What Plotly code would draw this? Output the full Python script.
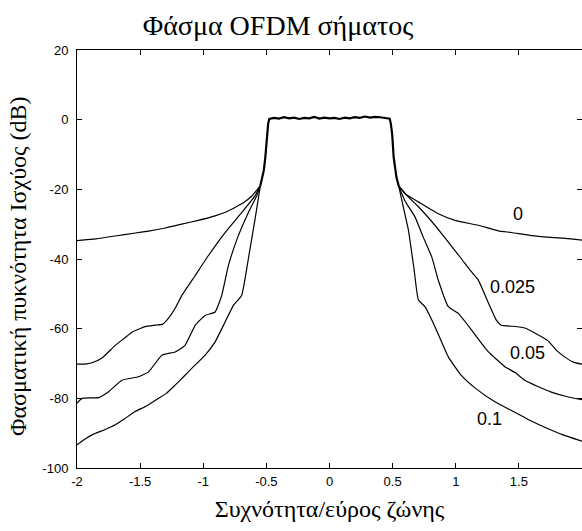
import plotly.graph_objects as go

# ---- data ----
lobe_x = [-0.548, -0.53, -0.52, -0.508, -0.496, -0.486, -0.477, -0.44, -0.40, -0.36, -0.32, -0.28,
          -0.24, -0.20, -0.16, -0.12, -0.08, -0.04, 0.0, 0.04, 0.08, 0.12, 0.16, 0.20, 0.24, 0.28,
          0.32, 0.36, 0.40, 0.44, 0.477, 0.486, 0.496, 0.508, 0.52, 0.53, 0.548]
lobe_db = [-19.0, -16.5, -14.5, -10.7, -4.0, -1.2, 0.2, 0.5, 0.3, 0.7, 0.4, 0.6,
           0.2, 0.5, 0.4, 0.8, 0.3, 0.6, 0.4, 0.5, 0.2, 0.6, 0.4, 0.7, 0.5, 0.9,
           0.6, 0.8, 0.7, 0.6, 0.3, -1.2, -4.0, -10.7, -14.5, -16.5, -19.0]

c0_left_x = [-2.0, -1.85, -1.697, -1.55, -1.433, -1.3, -1.17, -1.04, -0.906, -0.82, -0.748, -0.68, -0.617, -0.575, -0.548]
c0_left_db = [-34.7, -34.2, -33.4, -32.6, -32.0, -31.1, -30.0, -28.9, -27.6, -26.5, -25.2, -23.8, -22.0, -20.2, -19.0]
c0_right_x = [0.548, 0.6, 0.704, 0.862, 1.0, 1.178, 1.336, 1.441, 1.6, 1.75, 1.87, 2.0]
c0_right_db = [-19.0, -21.3, -23.6, -27.0, -29.0, -30.3, -31.9, -32.4, -33.3, -33.8, -34.1, -34.6]

c1_left_x = [-2.0, -1.92, -1.881, -1.802, -1.697, -1.62, -1.565, -1.46, -1.38, -1.32, -1.275, -1.22, -1.17,
             -1.065, -0.959, -0.827, -0.696, -0.59, -0.548]
c1_left_db = [-70.2, -70.1, -69.8, -68.4, -64.8, -62.6, -61.0, -59.4, -59.0, -58.7, -57.0, -54.0, -50.5,
              -44.8, -39.0, -32.4, -26.7, -21.9, -19.0]
c1_right_x = [0.548, 0.62, 0.704, 0.8, 0.888, 0.97, 1.046, 1.12, 1.178, 1.257, 1.32, 1.36, 1.45, 1.547,
              1.63, 1.731, 1.80, 1.863, 1.93, 2.0]
c1_right_db = [-19.0, -22.0, -25.0, -28.8, -32.7, -36.5, -40.0, -43.5, -46.0, -52.5, -57.5, -59.0, -59.3, -59.8,
               -61.3, -63.5, -66.3, -68.1, -69.6, -70.2]

c2_left_x = [-2.0, -1.96, -1.829, -1.75, -1.644, -1.513, -1.433, -1.328, -1.223, -1.144, -1.065, -0.985,
             -0.906, -0.854, -0.801, -0.722, -0.643, -0.577, -0.548]
c2_left_db = [-81.4, -80.0, -79.8, -78.1, -74.8, -73.8, -72.4, -67.6, -66.7, -64.8, -59.1, -56.2,
              -55.2, -50.5, -41.9, -33.3, -26.7, -21.9, -19.0]
c2_right_x = [0.548, 0.6, 0.677, 0.74, 0.81, 0.862, 0.941, 1.02, 1.126, 1.2, 1.257, 1.389, 1.47, 1.547,
              1.65, 1.757, 1.87, 2.0]
c2_right_db = [-19.0, -23.5, -27.9, -33.5, -39.4, -46.1, -53.7, -55.6, -60.4, -64.0, -66.6, -70.9, -72.6, -74.8,
               -76.6, -78.2, -79.4, -80.4]

c3_left_x = [-2.0, -1.95, -1.881, -1.78, -1.697, -1.62, -1.539, -1.45, -1.354, -1.29, -1.223, -1.15, -1.091,
             -0.985, -0.906, -0.827, -0.761, -0.696, -0.643, -0.59, -0.548]
c3_left_db = [-93.3, -92.0, -90.5, -89.0, -87.6, -85.8, -83.8, -82.2, -80.0, -78.5, -76.2, -73.6, -71.4,
              -67.6, -63.8, -58.1, -53.3, -50.5, -40.0, -28.6, -19.0]
c3_right_x = [0.548, 0.59, 0.625, 0.67, 0.704, 0.756, 0.836, 0.941, 1.046, 1.152, 1.31, 1.441, 1.57,
              1.705, 1.85, 2.0]
c3_right_db = [-19.0, -26.0, -31.7, -43.0, -51.8, -53.7, -59.5, -68.1, -73.5, -77.0, -81.0, -83.5, -86.0,
               -88.3, -90.5, -92.3]

curve_labels = ["0", "0.025", "0.05", "0.1"]
label_x = [1.49, 1.45, 1.57, 1.265]
label_db = [-27.0, -48.0, -67.0, -86.0]

x_ticks = [-2, -1.5, -1, -0.5, 0, 0.5, 1, 1.5, 2]
y_ticks = [20, 0, -20, -40, -60, -80, -100]

title_text = "Φάσμα OFDM σήματος"
x_title = "Συχνότητα/εύρος ζώνης"
y_title = "Φασματική πυκνότητα Ισχύος (dB)"

# ---- figure ----
W, H = 582, 531
ML, MR, MT, MB = 77, 0, 50, 63
PW, PH = W - ML - MR, H - MT - MB

fig = go.Figure()
line_style = dict(color="black", width=1.2, shape="spline", smoothing=0.4)
tails = [(c0_left_x, c0_left_db, c0_right_x, c0_right_db),
         (c1_left_x, c1_left_db, c1_right_x, c1_right_db),
         (c2_left_x, c2_left_db, c2_right_x, c2_right_db),
         (c3_left_x, c3_left_db, c3_right_x, c3_right_db)]
for lx, ly, rx, ry in tails:
    fig.add_trace(go.Scatter(x=lx, y=ly, mode="lines", line=line_style, hoverinfo="skip"))
    fig.add_trace(go.Scatter(x=rx, y=ry, mode="lines", line=line_style, hoverinfo="skip"))
fig.add_trace(go.Scatter(x=lobe_x, y=lobe_db, mode="lines",
                         line=dict(color="black", width=2.2), hoverinfo="skip"))

serif = "Liberation Serif, DejaVu Serif"
sans = "Liberation Sans, Arial"

for t, lx, ly in zip(curve_labels, label_x, label_db):
    fig.add_annotation(x=lx, y=ly, text=t, showarrow=False,
                       font=dict(family=sans, size=18, color="black"))

# y-axis title as a rotated annotation (centre at about x=18 px, y=266 px of the page)
fig.add_annotation(x=(18 - ML) / PW, y=(H - MB - 266) / PH, xref="paper", yref="paper",
                   text=y_title, showarrow=False, textangle=-90,
                   xanchor="center", yanchor="middle",
                   font=dict(family=serif, size=24, color="black"))

fig.update_layout(
    width=W, height=H,
    margin=dict(l=ML, r=MR, t=MT, b=MB),
    paper_bgcolor="white", plot_bgcolor="white",
    showlegend=False,
    title=dict(text=title_text, x=278 / W, xref="container", xanchor="center",
               y=1 - 25 / H, yref="container", yanchor="middle",
               font=dict(family=serif, size=28, color="black")),
    font=dict(family=sans, color="black"),
)

fig.update_xaxes(range=[-2, 2], tickvals=x_ticks, ticktext=[("%g" % v) for v in x_ticks],
                 ticks="inside", ticklen=5, tickcolor="black", showline=True, linecolor="black",
                 linewidth=1, mirror="allticks", showgrid=False, zeroline=False,
                 tickfont=dict(family=sans, size=13, color="black"),
                 ticklabelstandoff=1,
                 title=dict(text=x_title, standoff=12,
                            font=dict(family=serif, size=24, color="black")))
fig.update_yaxes(range=[-100, 20], tickvals=y_ticks, ticktext=[str(v) for v in y_ticks],
                 ticks="inside", ticklen=5, tickcolor="black", showline=True, linecolor="black",
                 linewidth=1, mirror="allticks", showgrid=False, zeroline=False,
                 tickfont=dict(family=sans, size=13, color="black"),
                 ticklabelstandoff=5)

fig.write_html("out.html")
